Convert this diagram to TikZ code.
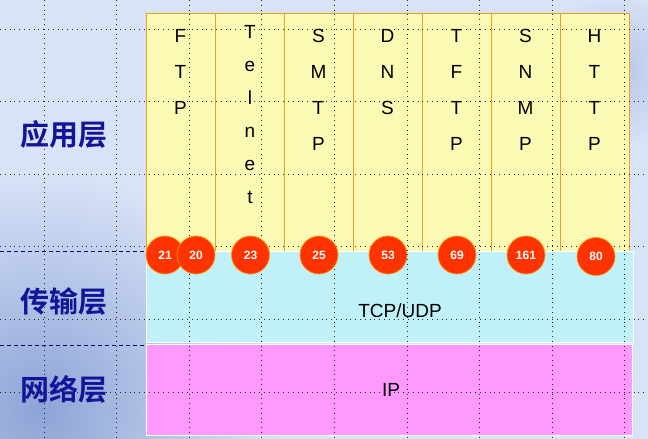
\documentclass[tikz,border=0pt]{standalone}
\usepackage{fontspec}
\setmainfont{Liberation Sans}
\newfontfamily\cjk{Noto Sans CJK SC}[BoldFont={Noto Sans CJK SC Bold}]
\usepackage{xcolor}
\definecolor{BgLight}{HTML}{D9E3F8}
\definecolor{BgDark}{HTML}{8CA4D6}
\definecolor{AppYellow}{HTML}{FAFAB4}
\definecolor{BoxEdge}{HTML}{F0A020}
\definecolor{TransCyan}{HTML}{C0F0F8}
\definecolor{NetPink}{HTML}{FF99FF}
\definecolor{PortRed}{HTML}{FF3300}
\definecolor{PortEdge}{HTML}{FF9900}
\definecolor{LayerBlue}{HTML}{14149A}
\definecolor{DashBlue}{HTML}{000080}

\begin{document}
\begin{tikzpicture}[x=1pt, y=-1pt,
  appbox/.style={draw=BoxEdge, line width=0.8pt, fill=AppYellow},
  proto/.style={anchor=north, align=center, inner sep=0pt, font=\fontsize{19}{36}\selectfont},
  port/.style={circle, fill=PortRed, draw=PortEdge, line width=0.7pt, minimum size=38pt, inner sep=0pt, text=white, font=\bfseries\fontsize{12}{12}\selectfont},
  layer/.style={text=LayerBlue, font=\cjk\bfseries\fontsize{29}{29}\selectfont},
  gridline/.style={dash pattern=on 0.8pt off 4pt, line width=0.8pt, black!85}]
	\useasboundingbox (0,0) rectangle (648,439);
	\fill[BgLight] (0,0) rectangle (648,439);
	\begin{scope}
	  \clip (0,0) rectangle (648,439);
	  \shade[inner color=BgDark, outer color=BgLight] (40,410) circle (240);
	  \shade[inner color=BgDark!45!BgLight, outer color=BgLight] (615,70) circle (80);
	\end{scope}
	\draw[appbox] (146,13) rectangle (215,251);
	\draw[appbox] (215,13) rectangle (284,251);
	\draw[appbox] (284,13) rectangle (353,251);
	\draw[appbox] (353,13) rectangle (422,251);
	\draw[appbox] (422,13) rectangle (491,251);
	\draw[appbox] (491,13) rectangle (560,251);
	\draw[appbox] (560,13) rectangle (629,251);
	\draw[draw=white, fill=TransCyan] (146,251) rectangle (633,342);
	\draw[draw=white, fill=NetPink] (146,344) rectangle (632,435);
	\node[proto] (ftp) at (180.5,29) {F\\T\\P};
	\node[proto, font=\fontsize{19}{33}\selectfont] (telnet) at (250,25) {T\\e\\l\\n\\e\\t};
	\node[proto] (smtp) at (318.5,29) {S\\M\\T\\P};
	\node[proto] (dns) at (387.5,29) {D\\N\\S};
	\node[proto] (tftp) at (456.5,29) {T\\F\\T\\P};
	\node[proto] (snmp) at (525.5,29) {S\\N\\M\\P};
	\node[proto] (http) at (594.5,29) {H\\T\\T\\P};
	\node[font=\fontsize{19}{19}\selectfont] (tcpudp) at (400,311) {TCP/UDP};
	\node[font=\fontsize{19}{19}\selectfont] (ip) at (391,390) {IP};
	\draw[gridline] (0,29) -- (648,29);
	\draw[gridline] (0,101.6) -- (648,101.6);
	\draw[gridline] (0,174.2) -- (648,174.2);
	\draw[gridline] (0,246.8) -- (648,246.8);
	\draw[gridline] (0,319.4) -- (648,319.4);
	\draw[gridline] (0,392) -- (648,392);
	\draw[gridline] (44,0) -- (44,439);
	\draw[gridline] (116.6,0) -- (116.6,439);
	\draw[gridline] (189.2,0) -- (189.2,439);
	\draw[gridline] (261.8,0) -- (261.8,439);
	\draw[gridline] (334.4,0) -- (334.4,439);
	\draw[gridline] (407,0) -- (407,439);
	\draw[gridline] (479.6,0) -- (479.6,439);
	\draw[gridline] (552.2,0) -- (552.2,439);
	\draw[gridline] (624.8,0) -- (624.8,439);
	\draw[DashBlue, line width=0.9pt, dash pattern=on 4pt off 3pt] (0,251) -- (146,251);
	\draw[DashBlue, line width=0.9pt, dash pattern=on 4pt off 3pt] (0,345) -- (146,345);
	\node[port] (p21) at (165,255) {21};
	\node[port] (p20) at (196,255) {20};
	\node[port] (p23) at (250.5,255) {23};
	\node[port] (p25) at (319,255) {25};
	\node[port] (p53) at (388,255) {53};
	\node[port] (p69) at (457,255) {69};
	\node[port] (p161) at (526,255) {161};
	\node[port] (p80) at (596,256.5) {80};
	\node[layer] (app) at (64,134) {应用层};
	\node[layer] (trans) at (64,302) {传输层};
	\node[layer] (net) at (64,389) {网络层};
\end{tikzpicture}
\end{document}
